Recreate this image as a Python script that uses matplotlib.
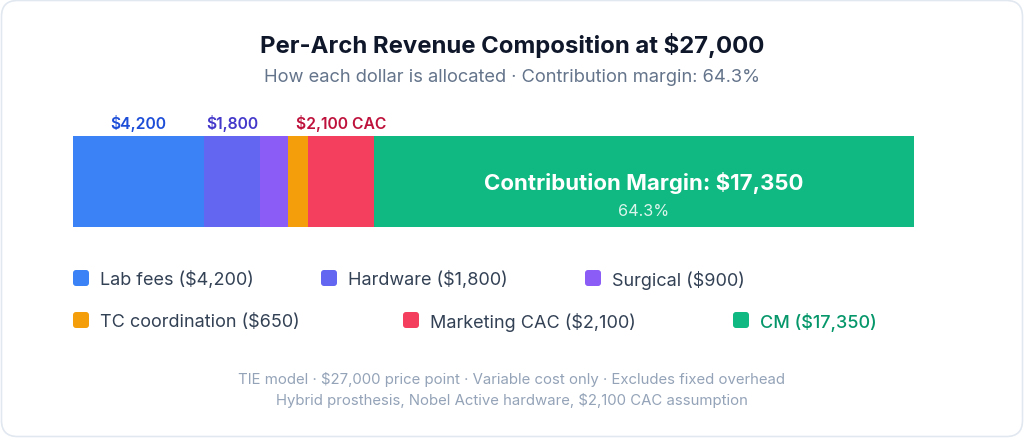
import matplotlib
matplotlib.use("Agg")
import matplotlib.pyplot as plt
from matplotlib.patches import FancyBboxPatch
import numpy as np

plt.rcParams['font.family'] = ['Inter', 'DejaVu Sans']

# ---- data ----
categories = ["Lab fees", "Hardware", "Surgical", "TC coordination", "Marketing CAC", "CM"]
values = [4200, 1800, 900, 650, 2100, 17350]
colors = ["#3b82f6", "#6366f1", "#8b5cf6", "#f59e0b", "#f43f5e", "#10b981"]
legend_labels = ["Lab fees ($4,200)", "Hardware ($1,800)", "Surgical ($900)",
                 "TC coordination ($650)", "Marketing CAC ($2,100)", "CM ($17,350)"]
top_labels = {0: ("$4,200", "#1d4ed8"), 1: ("$1,800", "#4338ca"), 4: ("$2,100 CAC", "#be123c")}
price = 27000
cm_pct = 64.3

title = "Per-Arch Revenue Composition at $27,000"
subtitle = "How each dollar is allocated \u00b7 Contribution margin: 64.3%"
footer1 = "TIE model \u00b7 $27,000 price point \u00b7 Variable cost only \u00b7 Excludes fixed overhead"
footer2 = "Hybrid prosthesis, Nobel Active hardware, $2,100 CAC assumption"

W, H = 1024, 439
fig = plt.figure(figsize=(W/100, H/100), dpi=100)
fig.patch.set_facecolor("white")

# overlay axes in pixel coords
ov = fig.add_axes([0, 0, 1, 1])
ov.set_xlim(0, W); ov.set_ylim(H, 0); ov.axis("off")
card = FancyBboxPatch((1.5, 1.5), W-3, H-3, boxstyle="round,pad=0,rounding_size=16",
                      facecolor="white", edgecolor="#e2e8f0", linewidth=1.2)
ov.add_patch(card)

ov.text(512, 45, title, ha="center", va="center", fontsize=17.2, fontweight="bold", color="#0f172a")
ov.text(512, 77, subtitle, ha="center", va="center", fontsize=13.2, color="#64748b")

# bar axes
bx0, bx1, by0, by1 = 73, 914, 137, 228
ax = fig.add_axes([bx0/W, 1-by1/H, (bx1-bx0)/W, (by1-by0)/H])
ax.set_xlim(0, price); ax.set_ylim(0, 1); ax.axis("off")
lefts = np.concatenate([[0], np.cumsum(values)[:-1]])
ax.barh([0.5], values, left=lefts, height=1.0, color=colors, edgecolor="none")

for i, (lab, col) in top_labels.items():
    ax.text(lefts[i] + values[i]/2, 1.0 + 14/91, lab, ha="center", va="center",
            fontsize=11.3, fontweight="semibold", color=col, clip_on=False)

cx = lefts[-1] + values[-1]/2
ax.text(cx, 1 - 46/91, f"Contribution Margin: ${values[-1]:,}", ha="center", va="center",
        fontsize=16, fontweight="bold", color="white")
ax.text(cx, 1 - 74/91, f"{cm_pct}%", ha="center", va="center",
        fontsize=11.7, color="white", alpha=0.85)

# legend
leg_pos = [(73, 279), (321, 279), (585, 279), (73, 321), (403, 321), (733, 321)]
for (x, y), lab, col, i in zip(leg_pos, legend_labels, colors, range(6)):
    sq = FancyBboxPatch((x, y-8), 16, 16, boxstyle="round,pad=0,rounding_size=3",
                        facecolor=col, edgecolor="none")
    ov.add_patch(sq)
    tc = "#059669" if i == 5 else "#334155"
    ov.text(x + 27, y + 1.5, lab, ha="left", va="center", fontsize=13, color=tc,
            fontweight="medium" if i == 5 else "normal")

ov.text(512, 380, footer1, ha="center", va="center", fontsize=10.75, color="#94a3b8")
ov.text(512, 401, footer2, ha="center", va="center", fontsize=10.75, color="#94a3b8")

fig.savefig("out.png", dpi=100, facecolor="white")
